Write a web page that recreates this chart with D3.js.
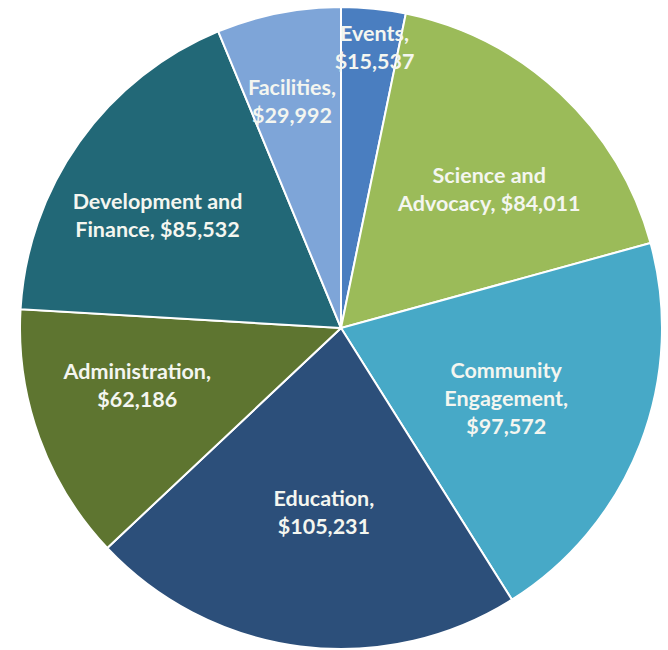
<!DOCTYPE html>
<html>
<head>
<meta charset="utf-8">
<script src="https://cdn.jsdelivr.net/npm/d3@7"></script>
<style>
  body { margin: 0; background: #fff; }
  svg text { font-family: Lato, "Open Sans", sans-serif; font-weight: bold; }
</style>
</head>
<body>
<svg id="pie"></svg>
<script>
const categories = ["Events", "Science and Advocacy", "Community Engagement", "Education",
  "Administration", "Development and Finance", "Facilities"];
const values = [15537, 84011, 97572, 105231, 62186, 85532, 29992];
const labelLines = [
  ["Events,", "$15,537"],
  ["Science and", "Advocacy, $84,011"],
  ["Community", "Engagement,", "$97,572"],
  ["Education,", "$105,231"],
  ["Administration,", "$62,186"],
  ["Development and", "Finance, $85,532"],
  ["Facilities,", "$29,992"]
];
const colors = ["#4a7ec0", "#9bbb59", "#47a9c7", "#2c4f7a", "#5e7530", "#226877", "#7ea5d8"];

const width = 668;
const height = 650;
const cx = 341;
const cy = 328;
const radius = 321;

// where each label sits: fraction of radius, angle nudge (deg)
const labelPlace = [[0.88, 1], [0.63, 4], [0.56, 2], [0.58, -2], [0.66, 4], [0.67, -4], [0.72, -1]];

const data = categories.map((c, i) => ({ name: c, value: values[i], lines: labelLines[i], idx: i }));

const svg = d3.select("#pie").attr("width", width).attr("height", height);
const g = svg.append("g").attr("transform", `translate(${cx},${cy})`);

const pie = d3.pie().sort(null).value((d) => d.value);
const arc = d3.arc().innerRadius(0).outerRadius(radius);
const arcs = pie(data);

g.selectAll("path")
  .data(arcs)
  .enter()
  .append("path")
  .attr("d", arc)
  .attr("fill", (d) => colors[d.data.idx])
  .attr("stroke", "#fff")
  .attr("stroke-width", 2);

const lineH = 28;
const labels = g.selectAll(".lbl")
  .data(arcs)
  .enter()
  .append("text")
  .attr("class", "lbl")
  .attr("fill", "#f4f6f0")
  .attr("font-size", 21.5)
  .attr("text-anchor", "middle")
  .attr("transform", (d) => {
    const p = labelPlace[d.data.idx];
    const a = (d.startAngle + d.endAngle) / 2 + (p[1] * Math.PI) / 180;
    const r = radius * p[0];
    return `translate(${r * Math.sin(a)},${-r * Math.cos(a)})`;
  });

labels.each(function (d) {
  const n = d.data.lines.length;
  d3.select(this)
    .selectAll("tspan")
    .data(d.data.lines)
    .enter()
    .append("tspan")
    .attr("x", 0)
    .attr("y", (t, i) => (i - (n - 1) / 2) * lineH + 7)
    .text((t) => t);
});
</script>
</body>
</html>
